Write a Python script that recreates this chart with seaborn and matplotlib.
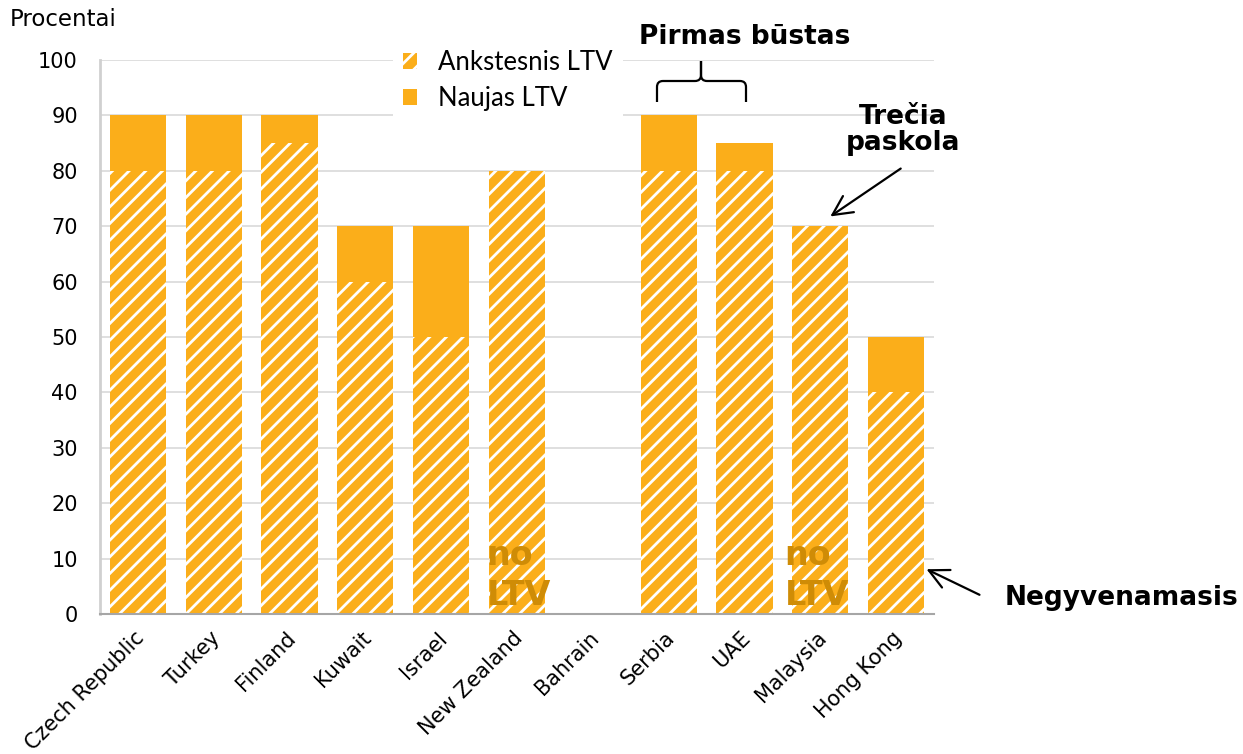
import matplotlib
matplotlib.use("Agg")
import matplotlib.pyplot as plt
import matplotlib.transforms as mtransforms
from matplotlib.patches import Patch, PathPatch, FancyArrowPatch
from matplotlib.path import Path
import seaborn as sns
import pandas as pd

countries = ["Czech Republic", "Turkey", "Finland", "Kuwait", "Israel", "New Zealand",
             "Bahrain", "Serbia", "UAE", "Malaysia", "Hong Kong"]
old_ltv = [80, 80, 85, 60, 50, 80, 0, 80, 80, 70, 40]
new_ltv = [90, 90, 90, 70, 70, 80, 0, 90, 85, 70, 50]
yticks = list(range(0, 101, 10))
legend_labels = ["Ankstesnis LTV", "Naujas LTV"]
no_ltv_countries = ["New Zealand", "Malaysia"]

ORANGE = "#FBAE1A"
TEXTGOLD = "#CF8C06"
MAINFONT = ["DejaVu Sans"]

sns.set_theme(style="white")
plt.rcParams["font.family"] = MAINFONT
plt.rcParams["hatch.linewidth"] = 2.0
plt.rcParams["text.color"] = "black"
plt.rcParams["xtick.color"] = "black"
plt.rcParams["ytick.color"] = "black"

fig = plt.figure(figsize=(12.43, 7.54), dpi=100)
ax = fig.add_axes([100/1243, 1-614/754, 834/1243, 554/754])

df = pd.DataFrame({"country": countries, "old": old_ltv, "new": new_ltv})

sns.barplot(data=df, x="country", y="new", color=ORANGE, saturation=1, width=0.74,
            linewidth=0, ax=ax, zorder=2)
sns.barplot(data=df, x="country", y="old", color=ORANGE, saturation=1, width=0.74,
            linewidth=0, edgecolor="white", hatch="//", ax=ax, zorder=2)

ax.set_ylim(0, 100)
ax.set_xlim(-0.5, len(countries) - 0.5)
ax.set_yticks(yticks)
ax.set_yticklabels([str(t) for t in yticks], fontsize=15, family=MAINFONT)
ax.yaxis.grid(True, color="#D9D9D9", linewidth=1.2, zorder=0)
ax.set_axisbelow(True)
ax.set_xlabel("")
ax.set_ylabel("")
for s in ["top", "right"]:
    ax.spines[s].set_visible(False)
ax.spines["left"].set_color("#D0D0D0")
ax.spines["left"].set_linewidth(2)
ax.spines["bottom"].set_color("#A6A6A6")
ax.spines["bottom"].set_linewidth(1.5)
ax.tick_params(axis="both", length=0)
ax.tick_params(axis="y", pad=16)
ax.tick_params(axis="x", pad=10)
ax.set_xticks(range(len(countries)))
ax.set_xticklabels(countries, rotation=45, ha="right", rotation_mode="anchor", fontsize=15,
                   family=MAINFONT)
offset = mtransforms.ScaledTranslation(-4/100, 0, fig.dpi_scale_trans)
for lab in ax.get_xticklabels():
    lab.set_transform(lab.get_transform() + offset)

fig.text(10/1243, 1-20/754, "Procentai", fontsize=16.5, va="center", ha="left", family=MAINFONT)

# legend
handles = [Patch(facecolor=ORANGE, edgecolor="white", hatch="//", linewidth=0),
           Patch(facecolor=ORANGE, edgecolor=ORANGE, linewidth=0)]
leg = ax.legend(handles, legend_labels, loc="upper left",
                bbox_to_anchor=(393/1243, 1-40/754), bbox_transform=fig.transFigure,
                frameon=True, fontsize=18.5,
                handlelength=0.55, handleheight=0.55, handletextpad=0.8,
                labelspacing=0.42, borderpad=0.4, borderaxespad=0)
for t in leg.get_texts():
    t.set_fontfamily(["Lato"])
leg.get_frame().set_facecolor("white")
leg.get_frame().set_edgecolor("white")
leg.get_frame().set_alpha(1)
leg.get_frame().set_linewidth(0)
leg.set_zorder(4)

# no LTV labels
no_ltv_offsets = [-0.40, -0.47]
for c, off in zip(no_ltv_countries, no_ltv_offsets):
    i = countries.index(c)
    ax.text(i + off, 8.8, "no", color=TEXTGOLD, fontsize=24, fontweight="bold",
            ha="left", va="baseline", zorder=5, family=MAINFONT)
    ax.text(i + off, 1.6, "LTV", color=TEXTGOLD, fontsize=24, fontweight="bold",
            ha="left", va="baseline", zorder=5, family=MAINFONT)

def fx(px):
    return px / 1243
def fy(py):
    return 1 - py / 754

# Pirmas bustas
fig.text(fx(745), fy(37), "Pirmas būstas", fontsize=19, fontweight="bold", ha="center", va="center",
         family=MAINFONT)
x0, x1, xm = 657, 746, 701
yt, ym, yb = 102, 81, 61
r = 6
verts = [(x0, yt), (x0, ym + r), (x0, ym), (x0 + r, ym), (xm - r, ym), (xm, ym), (xm, ym - r), (xm, yb),
         (xm, yb), (xm, ym - r), (xm, ym), (xm + r, ym), (x1 - r, ym), (x1, ym), (x1, ym + r), (x1, yt)]
codes = [Path.MOVETO, Path.LINETO, Path.CURVE3, Path.CURVE3, Path.LINETO, Path.CURVE3, Path.CURVE3, Path.LINETO,
         Path.MOVETO, Path.LINETO, Path.CURVE3, Path.CURVE3, Path.LINETO, Path.CURVE3, Path.CURVE3, Path.LINETO]
fverts = [(fx(a), fy(b)) for a, b in verts]
fig.add_artist(PathPatch(Path(fverts, codes), transform=fig.transFigure, fill=False,
                         edgecolor="black", linewidth=1.6))

# Trecia paskola
fig.text(fx(903), fy(130), "Trečia\npaskola", fontsize=19, fontweight="bold",
         ha="center", va="center", linespacing=1.05, family=MAINFONT)
fig.add_artist(FancyArrowPatch((fx(903), fy(167)), (fx(828), fy(218)), transform=fig.transFigure,
                               arrowstyle="->,head_length=14,head_width=7", linewidth=1.6,
                               color="black", mutation_scale=1))

# Negyvenamasis
fig.text(fx(1005), fy(598), "Negyvenamasis", fontsize=19, fontweight="bold",
         ha="left", va="center", family=MAINFONT)
fig.add_artist(FancyArrowPatch((fx(982), fy(596)), (fx(924), fy(568)), transform=fig.transFigure,
                               arrowstyle="->,head_length=14,head_width=7", linewidth=1.6,
                               color="black", mutation_scale=1))

fig.savefig("out.png", dpi=100)
